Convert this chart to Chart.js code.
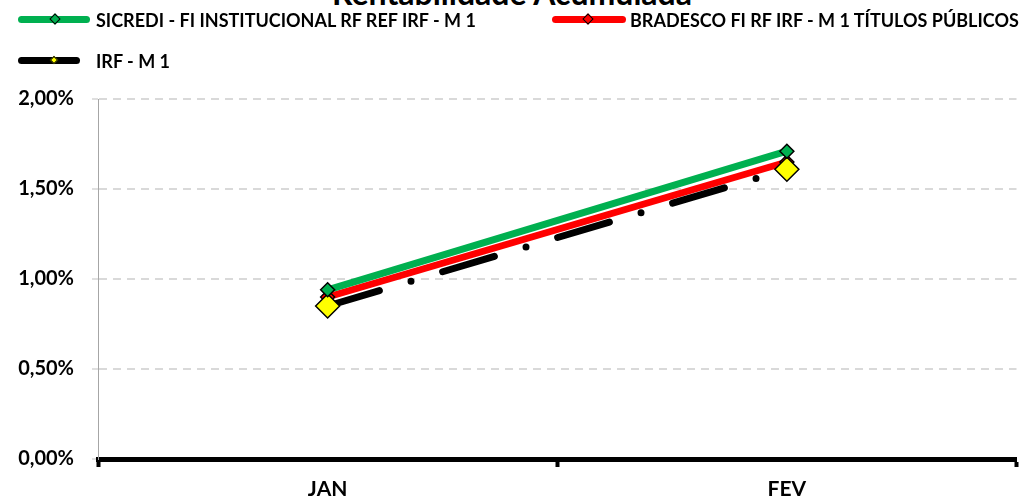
<!DOCTYPE html>
<html>
<head>
<meta charset="utf-8">
<script src="https://cdn.jsdelivr.net/npm/chart.js@4"></script>
<style>
  html, body { margin: 0; padding: 0; background: #fff; overflow: hidden; }
  body { width: 1030px; height: 500px; position: relative; font-family: Lato, "Open Sans", sans-serif; }
  #title { position: absolute; left: 0; width: 1024px; top: -23px; text-align: center; font-weight: bold; font-size: 32px; line-height: 32px; color: #000; white-space: nowrap; }
  .leg { position: absolute; height: 20px; font-weight: bold; font-size: 18px; color: #000; white-space: nowrap; }
  .leg .bar { position: absolute; top: 6px; height: 7px; border-radius: 4px; }
  .leg .dia { position: absolute; top: 5px; width: 6px; height: 6px; border: 1.5px solid #000; transform: rotate(45deg); }
  .leg .txt { position: absolute; top: 0; line-height: 20px; }
  #wrap { position: absolute; left: 0; top: 0; width: 1030px; height: 500px; }
</style>
</head>
<body>
<div id="title">Rentabilidade Acumulada</div>
<div id="wrap"><canvas id="chart" width="1030" height="500"></canvas></div>
<div class="leg" style="left:18px;top:10px;">
  <div class="bar" style="left:0;width:72px;background:#00b050;"></div>
  <div class="dia" style="left:33px;background:#00b050;"></div>
  <div class="txt" style="left:78px;">SICREDI - FI INSTITUCIONAL RF REF IRF - M 1</div>
</div>
<div class="leg" style="left:552px;top:10px;">
  <div class="bar" style="left:0;width:74px;background:#ff0000;"></div>
  <div class="dia" style="left:32px;background:#ff0000;"></div>
  <div class="txt" style="left:78px;">BRADESCO FI RF IRF - M 1 TÍTULOS PÚBLICOS</div>
</div>
<div class="leg" style="left:18px;top:51px;">
  <div class="bar" style="left:0;width:62px;background:#000;"></div>
  <div class="dia" style="left:33px;top:6px;width:4px;height:4px;background:#ffff00;border-width:1px;"></div>
  <div class="txt" style="left:78px;">IRF - M 1</div>
</div>
<script>
const categories = ["JAN", "FEV"];
const sicredi = [0.94, 1.71];
const bradesco = [0.90, 1.65];
const irfm1 = [0.85, 1.61];
const yTicks = [0, 0.5, 1.0, 1.5, 2.0];

const fontFam = "Lato, 'Open Sans', sans-serif";

new Chart(document.getElementById("chart"), {
  type: "line",
  data: {
    labels: categories,
    datasets: [
      {
        label: "SICREDI - FI INSTITUCIONAL RF REF IRF - M 1",
        data: sicredi,
        borderColor: "#00b050",
        borderWidth: 7,
        pointStyle: "rectRot",
        pointRadius: 7,
        pointBackgroundColor: "#00b050",
        pointBorderColor: "#000",
        pointBorderWidth: 1.5,
        order: 0,
      },
      {
        label: "BRADESCO FI RF IRF - M 1 TÍTULOS PÚBLICOS",
        data: bradesco,
        borderColor: "#ff0000",
        borderWidth: 7,
        pointStyle: "rectRot",
        pointRadius: 7,
        pointBackgroundColor: "#ff0000",
        pointBorderColor: "#000",
        pointBorderWidth: 1.5,
        order: 2,
      },
      {
        label: "IRF - M 1",
        data: irfm1,
        borderColor: "#000",
        borderWidth: 7,
        borderCapStyle: "round",
        borderDash: [54, 33, 0, 33],
        pointStyle: "rectRot",
        pointRadius: 12,
        pointBackgroundColor: "#ffff00",
        pointBorderColor: "#000",
        pointBorderWidth: 1.5,
        order: 1,
      },
    ],
  },
  options: {
    responsive: false,
    animation: false,
    layout: { padding: { top: 99, right: 10, left: 0, bottom: 0 } },
    plugins: { legend: { display: false }, tooltip: { enabled: false } },
    elements: { line: { tension: 0 } },
    scales: {
      x: {
        offset: true,
        grid: { offset: true, drawOnChartArea: false, drawTicks: true, tickLength: 8, tickWidth: 4, tickColor: "#000" },
        border: { display: true, color: "#000", width: 5 },
        ticks: { color: "#000", font: { family: fontFam, size: 21, weight: "bold" }, padding: 10 },
        afterFit: (s) => { s.height = 41; },
      },
      y: {
        min: 0,
        max: 2,
        afterBuildTicks: (s) => { s.ticks = yTicks.map(v => ({ value: v })); },
        grid: { color: "#d9d9d9", lineWidth: 2, tickLength: 6, tickColor: "#bfbfbf", tickWidth: 1 },
        border: { display: true, color: "#a6a6a6", width: 1, dash: [8, 6] },
        ticks: {
          color: "#000",
          padding: 18,
          font: { family: fontFam, size: 20, weight: "bold" },
          callback: (v) => v.toFixed(2).replace(".", ",") + "%",
        },
        afterFit: (s) => { s.width = 98; },
      },
    },
  },
});
</script>
</body>
</html>
